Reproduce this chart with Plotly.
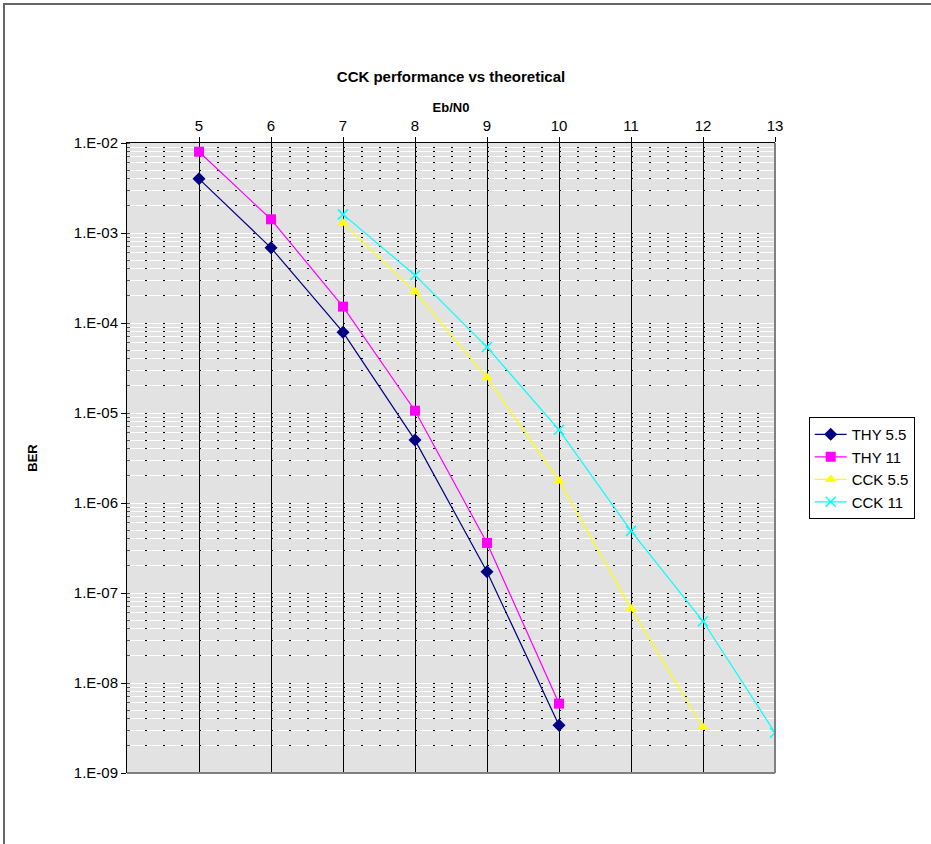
import plotly.graph_objects as go

eb_n0 = [5, 6, 7, 8, 9, 10, 11, 12, 13]

thy55_x = [5, 6, 7, 8, 9, 10]
thy55_y = [4.0e-3, 6.85e-4, 7.9e-5, 5.0e-6, 1.72e-7, 3.4e-9]

thy11_x = [5, 6, 7, 8, 9, 10]
thy11_y = [8.0e-3, 1.42e-3, 1.52e-4, 1.06e-5, 3.6e-7, 5.9e-9]

cck55_x = [7, 8, 9, 10, 11, 12]
cck55_y = [1.28e-3, 2.22e-4, 2.46e-5, 1.76e-6, 6.7e-8, 3.2e-9]

cck11_x = [7, 8, 9, 10, 11, 12, 13]
cck11_y = [1.61e-3, 3.4e-4, 5.4e-5, 6.5e-6, 4.9e-7, 4.85e-8, 2.8e-9]

y_tickvals = [1e-2, 1e-3, 1e-4, 1e-5, 1e-6, 1e-7, 1e-8, 1e-9]
y_ticktext = ["1.E-02", "1.E-03", "1.E-04", "1.E-05", "1.E-06", "1.E-07", "1.E-08", "1.E-09"]

FONT = "Liberation Sans, Arial, sans-serif"

fig = go.Figure()

fig.add_trace(go.Scatter(x=thy55_x, y=thy55_y, name="THY 5.5", mode="lines+markers",
                         line=dict(color="#000080", width=1.2),
                         marker=dict(symbol="diamond", size=10, color="#000080")))
fig.add_trace(go.Scatter(x=thy11_x, y=thy11_y, name="THY 11", mode="lines+markers",
                         line=dict(color="#FF00FF", width=1.2),
                         marker=dict(symbol="square", size=10, color="#FF00FF")))
fig.add_trace(go.Scatter(x=cck55_x, y=cck55_y, name="CCK 5.5", mode="lines+markers",
                         line=dict(color="#FFFF00", width=1.2),
                         marker=dict(symbol="triangle-up", size=10, color="#FFFF00")))
fig.add_trace(go.Scatter(x=cck11_x, y=cck11_y, name="CCK 11", mode="lines+markers",
                         line=dict(color="#00FFFF", width=1.2),
                         marker=dict(symbol="x-thin", size=10, color="#00FFFF",
                                     line=dict(color="#00FFFF", width=1.5))))

# invisible trace on overlay axis to carry the dotted grid
fig.add_trace(go.Scatter(x=[4], y=[1e-5], yaxis="y2", mode="markers",
                         marker=dict(opacity=0), showlegend=False, hoverinfo="skip"))

fig.update_layout(
    width=931, height=844,
    margin=dict(l=127, r=156, t=143, b=71),
    paper_bgcolor="white",
    plot_bgcolor="#E2E2E2",
    font=dict(family=FONT, size=15, color="black"),
    title=dict(text="<b>CCK performance vs theoretical</b>", x=0.5, xref="paper",
               xanchor="center", y=1 - 77 / 844, yanchor="middle",
               font=dict(size=15, family=FONT)),
    showlegend=True,
    legend=dict(x=1.052, xanchor="left", y=0.565, yanchor="top",
                bgcolor="white", bordercolor="black", borderwidth=1,
                font=dict(size=15, family=FONT), tracegroupgap=0,
                itemwidth=32),
    xaxis=dict(
        side="top", range=[4, 13], tickvals=eb_n0, ticks="outside", ticklen=5,
        tickcolor="black", showline=True, linecolor="black", linewidth=1,
        showgrid=True, gridcolor="black", gridwidth=1, zeroline=False,
        title=dict(text="<b>Eb/N0</b>", font=dict(size=13), standoff=1),
        tickfont=dict(size=15),
    ),
    yaxis=dict(
        type="log", range=[-9, -2], tickvals=y_tickvals, ticktext=y_ticktext,
        ticks="outside", ticklen=5, tickcolor="black",
        showline=True, linecolor="black", linewidth=1,
        showgrid=True, gridcolor="white", gridwidth=1, zeroline=False,
        minor=dict(showgrid=True, gridcolor="white", gridwidth=1, dtick="D1",
                   ticks="inside", ticklen=3, tickcolor="#555"),
        title=dict(text="<b>BER</b>", font=dict(size=13), standoff=33),
        tickfont=dict(size=15),
    ),
    yaxis2=dict(
        type="log", range=[-9, -2], overlaying="y", side="left",
        showticklabels=False, ticks="", showline=False, zeroline=False,
        tickvals=y_tickvals,
        showgrid=True, gridcolor="black", gridwidth=1, griddash="2px,16px",
        minor=dict(showgrid=True, gridcolor="black", gridwidth=1, dtick="D1",
                   griddash="2px,16px"),
    ),
)

# plot area right and bottom edges (grey)
fig.add_shape(type="line", xref="paper", yref="paper", x0=0, x1=1, y0=0, y1=0,
              line=dict(color="#808080", width=2))
fig.add_shape(type="line", xref="paper", yref="paper", x0=1, x1=1, y0=0, y1=1,
              line=dict(color="#808080", width=2))
# outer chart frame (only top/left visible)
fig.add_shape(type="rect", xref="paper", yref="paper",
              x0=(4 - 127) / 648, x1=1.6, y0=-0.4, y1=(773 - 4) / 630,
              line=dict(color="#666666", width=2), fillcolor="rgba(0,0,0,0)")

fig.write_html("out.html", config={"displayModeBar": False},
               post_script="document.body.style.margin='0px';")
